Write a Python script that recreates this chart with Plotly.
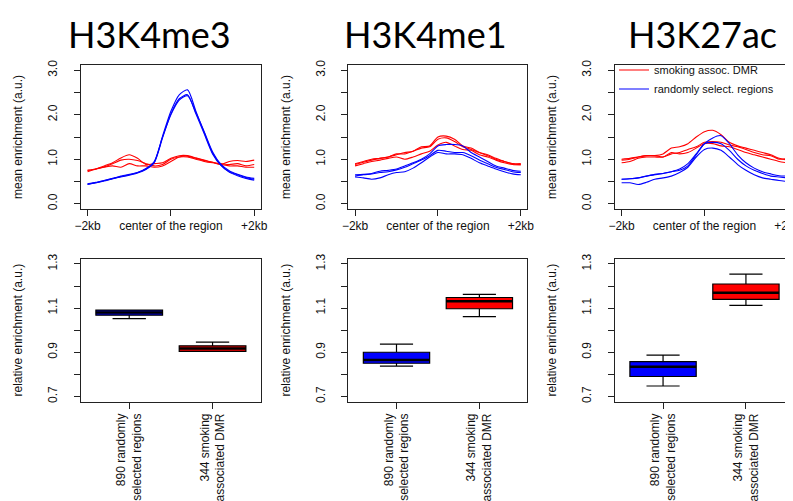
import plotly.graph_objects as go

# ---------------- data ----------------
marks = ["H3K4me3", "H3K4me1", "H3K27ac"]
positions = [-2000, -1800, -1600, -1400, -1200, -1000, -800, -600, -400, -200, 0,
             200, 400, 600, 800, 1000, 1200, 1400, 1600, 1800, 2000]
pos_ticks = [-2000, 0, 2000]
pos_ticktext = ["\u22122kb", "center of the region", "+2kb"]

# H3K4me3 profiles
k4me3_dmr_1 = [0.75, 0.78, 0.85, 0.92, 1.03, 1.10, 1.02, 0.88, 0.90, 0.92, 1.02, 1.08, 1.08, 1.03, 0.98, 0.93, 0.88, 0.95, 0.97, 0.95, 0.98]
k4me3_dmr_2 = [0.72, 0.78, 0.83, 0.90, 0.98, 1.00, 0.97, 0.90, 0.85, 0.88, 1.00, 1.05, 1.05, 1.00, 0.95, 0.92, 0.90, 0.88, 0.90, 0.85, 0.88]
k4me3_dmr_3 = [0.75, 0.78, 0.82, 0.85, 0.82, 0.90, 0.85, 0.85, 0.82, 0.85, 0.95, 1.05, 1.07, 1.02, 0.97, 0.93, 0.88, 0.85, 0.85, 0.82, 0.82]
k4me3_rnd_1 = [0.44, 0.47, 0.52, 0.57, 0.61, 0.65, 0.70, 0.78, 0.93, 1.52, 2.08, 2.45, 2.56, 2.08, 1.60, 1.14, 0.87, 0.72, 0.65, 0.59, 0.55]
k4me3_rnd_2 = [0.43, 0.47, 0.51, 0.56, 0.60, 0.64, 0.69, 0.77, 0.92, 1.48, 2.02, 2.36, 2.45, 2.02, 1.57, 1.12, 0.86, 0.71, 0.63, 0.57, 0.53]
k4me3_rnd_3 = [0.45, 0.48, 0.52, 0.56, 0.62, 0.66, 0.70, 0.79, 0.95, 1.50, 2.00, 2.33, 2.43, 2.05, 1.62, 1.17, 0.89, 0.74, 0.66, 0.60, 0.57]

# H3K4me1 profiles
k4me1_dmr_1 = [0.90, 0.95, 1.00, 1.02, 1.05, 1.10, 1.15, 1.18, 1.28, 1.30, 1.50, 1.52, 1.45, 1.30, 1.25, 1.15, 1.08, 1.00, 0.95, 0.90, 0.88]
k4me1_dmr_2 = [0.88, 0.93, 0.98, 1.02, 1.05, 1.12, 1.12, 1.18, 1.25, 1.28, 1.45, 1.48, 1.40, 1.28, 1.22, 1.15, 1.10, 1.02, 0.95, 0.90, 0.90]
k4me1_dmr_3 = [0.85, 0.90, 0.95, 0.98, 1.02, 1.05, 1.00, 1.05, 1.12, 1.18, 1.32, 1.38, 1.30, 1.22, 1.20, 1.10, 1.05, 0.98, 0.92, 0.88, 0.87]
k4me1_rnd_1 = [0.65, 0.66, 0.68, 0.73, 0.75, 0.78, 0.85, 0.92, 1.00, 1.12, 1.30, 1.33, 1.33, 1.30, 1.15, 1.05, 0.95, 0.85, 0.80, 0.75, 0.73]
k4me1_rnd_2 = [0.62, 0.65, 0.67, 0.70, 0.72, 0.76, 0.82, 0.90, 0.98, 1.08, 1.20, 1.18, 1.15, 1.15, 1.08, 0.98, 0.90, 0.82, 0.77, 0.72, 0.70]
k4me1_rnd_3 = [0.60, 0.58, 0.55, 0.58, 0.65, 0.70, 0.72, 0.80, 0.92, 1.05, 1.15, 1.12, 1.12, 1.10, 1.02, 0.92, 0.85, 0.78, 0.72, 0.67, 0.65]

# H3K27ac profiles
k27ac_dmr_1 = [1.00, 1.02, 1.05, 1.08, 1.08, 1.12, 1.25, 1.28, 1.35, 1.50, 1.62, 1.65, 1.55, 1.38, 1.30, 1.25, 1.20, 1.15, 1.10, 1.02, 0.98]
k27ac_dmr_2 = [0.98, 1.00, 1.05, 1.08, 1.08, 1.05, 1.12, 1.15, 1.22, 1.28, 1.38, 1.40, 1.38, 1.32, 1.28, 1.22, 1.15, 1.10, 1.08, 1.00, 1.02]
k27ac_dmr_3 = [0.92, 0.95, 1.02, 1.05, 1.05, 1.05, 1.15, 1.12, 1.15, 1.25, 1.35, 1.35, 1.30, 1.28, 1.22, 1.15, 1.10, 1.05, 1.00, 0.95, 0.92]
k27ac_rnd_1 = [0.55, 0.56, 0.58, 0.62, 0.65, 0.68, 0.72, 0.75, 0.85, 1.10, 1.35, 1.48, 1.53, 1.35, 1.10, 0.92, 0.80, 0.72, 0.67, 0.63, 0.62]
k27ac_rnd_2 = [0.55, 0.56, 0.58, 0.62, 0.66, 0.68, 0.72, 0.78, 0.90, 1.12, 1.35, 1.38, 1.35, 1.20, 1.00, 0.85, 0.75, 0.68, 0.62, 0.60, 0.58]
k27ac_rnd_3 = [0.47, 0.47, 0.43, 0.48, 0.55, 0.58, 0.62, 0.70, 0.82, 1.05, 1.22, 1.25, 1.20, 1.05, 0.88, 0.75, 0.65, 0.58, 0.55, 0.52, 0.50]

dmr_profiles = [[k4me3_dmr_1, k4me3_dmr_2, k4me3_dmr_3],
                [k4me1_dmr_1, k4me1_dmr_2, k4me1_dmr_3],
                [k27ac_dmr_1, k27ac_dmr_2, k27ac_dmr_3]]
rnd_profiles = [[k4me3_rnd_1, k4me3_rnd_2, k4me3_rnd_3],
                [k4me1_rnd_1, k4me1_rnd_2, k4me1_rnd_3],
                [k27ac_rnd_1, k27ac_rnd_2, k27ac_rnd_3]]

# boxplots: relative enrichment
groups = [1, 2]
group_labels = ["890 randomly<br>selected regions", "344 smoking<br>associated DMR"]
box_lower = [[1.052, 0.905], [0.837, 1.061], [0.747, 1.112]]
box_q1 = [[1.068, 0.904], [0.850, 1.097], [0.790, 1.139]]
box_median = [[1.080, 0.917], [0.865, 1.131], [0.834, 1.169]]
box_q3 = [[1.091, 0.929], [0.900, 1.148], [0.857, 1.209]]
box_upper = [[1.091, 0.946], [0.937, 1.162], [0.887, 1.254]]

top_yticks = [0.0, 0.5, 1.0, 1.5, 2.0, 2.5, 3.0]
top_yticktext = ["0.0", "", "1.0", "", "2.0", "", "3.0"]
bot_yticks = [0.7, 0.8, 0.9, 1.0, 1.1, 1.2, 1.3]
bot_yticktext = ["0.7", "", "0.9", "", "1.1", "", "1.3"]

# ---------------- layout helpers ----------------
W, H = 793, 501
RED, BLUE = "#FF0000", "#0000FF"
col_px = [(68, 251), (340, 522), (611, 793)]
top_px = (52.6, 198.4)
bot_px = (248.6, 393.4)
title_cx = [138, 418, 700]
FONT = "Liberation Sans, Arial, sans-serif"


def xdom(c):
    return [c[0] / W, c[1] / W]


def ydom(r):
    return [(H - r[1]) / H, (H - r[0]) / H]


axis_common = dict(showline=True, mirror=True, linecolor="#222", linewidth=1,
                   ticks="outside", ticklen=6, tickcolor="#222", tickwidth=1,
                   showgrid=False, zeroline=False, fixedrange=True,
                   tickfont=dict(family=FONT, size=12, color="#111"))

fig = go.Figure()
layout = dict(width=W, height=H, margin=dict(l=0, r=0, t=0, b=0),
              plot_bgcolor="white", paper_bgcolor="white", showlegend=True,
              font=dict(family=FONT, size=12, color="#111"))

for i in range(3):
    tx, ty = f"x{i+1}", f"y{i+1}"
    bx, by = f"x{i+4}", f"y{i+4}"
    # top profile panel
    for k, prof in enumerate(dmr_profiles[i]):
        fig.add_trace(go.Scatter(x=positions, y=prof, mode="lines", xaxis=tx, yaxis=ty,
                                 line=dict(color=RED, width=1.1, shape="spline", smoothing=0.7),
                                 name="smoking assoc. DMR", legendrank=1,
                                 showlegend=(i == 2 and k == 0)))
    for k, prof in enumerate(rnd_profiles[i]):
        fig.add_trace(go.Scatter(x=positions, y=prof, mode="lines", xaxis=tx, yaxis=ty,
                                 line=dict(color=BLUE, width=1.1, shape="spline", smoothing=0.7),
                                 name="randomly select. regions", legendrank=2,
                                 showlegend=(i == 2 and k == 0)))
    # bottom boxplot panel
    for g, color in zip(range(2), [BLUE, RED]):
        fig.add_trace(go.Box(x=[groups[g]], q1=[box_q1[i][g]], median=[box_median[i][g]],
                             q3=[box_q3[i][g]], lowerfence=[box_lower[i][g]],
                             upperfence=[box_upper[i][g]], width=0.8, whiskerwidth=0.5,
                             fillcolor=color, line=dict(color="black", width=1.2),
                             xaxis=bx, yaxis=by, showlegend=False, hoverinfo="skip"))
        fig.add_trace(go.Scatter(x=[groups[g] - 0.4, groups[g] + 0.4],
                                 y=[box_median[i][g], box_median[i][g]], mode="lines",
                                 line=dict(color="black", width=2.5), xaxis=bx, yaxis=by,
                                 showlegend=False, hoverinfo="skip"))

    layout[f"xaxis{i+1}"] = dict(axis_common, domain=xdom(col_px[i]), anchor=ty,
                                 range=[-2160, 2160], tickvals=pos_ticks, ticktext=pos_ticktext)
    layout[f"yaxis{i+1}"] = dict(axis_common, domain=ydom(top_px), anchor=tx,
                                 range=[-0.12, 3.12], tickvals=top_yticks, ticktext=top_yticktext,
                                 tickangle=-90, ticklabelstandoff=12,
                                 title=dict(text="mean enrichment (a.u.)", standoff=20,
                                            font=dict(family=FONT, size=12, color="#111")))
    layout[f"xaxis{i+4}"] = dict(axis_common, domain=xdom(col_px[i]), anchor=by,
                                 range=[0.42, 2.58], tickvals=groups, ticktext=group_labels,
                                 tickangle=-90)
    layout[f"yaxis{i+4}"] = dict(axis_common, domain=ydom(bot_px), anchor=bx,
                                 range=[0.676, 1.324], tickvals=bot_yticks, ticktext=bot_yticktext,
                                 tickangle=-90, ticklabelstandoff=12,
                                 title=dict(text="relative enrichment (a.u.)", standoff=20,
                                            font=dict(family=FONT, size=12, color="#111")))

layout["annotations"] = [dict(text=m, x=cx / W, y=1.0, xref="paper", yref="paper",
                              xanchor="center", yanchor="top", showarrow=False, yshift=3,
                              font=dict(family="Lato, Open Sans, sans-serif", size=36, color="black"))
                         for m, cx in zip(marks, title_cx)]
layout["legend"] = dict(x=610 / W, y=1 - 43 / H, xanchor="left", yanchor="top",
                        bgcolor="rgba(0,0,0,0)", font=dict(family=FONT, size=11, color="#111"),
                        tracegroupgap=0, itemwidth=30)

fig.update_layout(**layout)
fig.write_html("out.html")
